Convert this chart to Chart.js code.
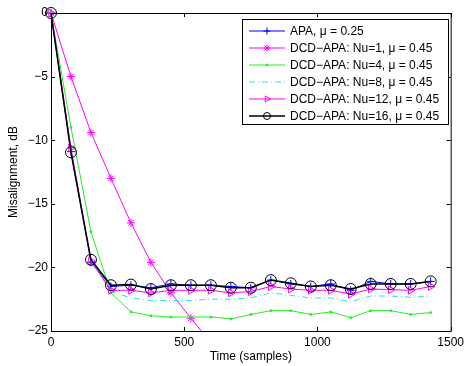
<!DOCTYPE html>
<html>
<head>
<meta charset="utf-8">
<script src="https://cdn.jsdelivr.net/npm/chart.js@4"></script>
<style>
  html, body { margin: 0; padding: 0; background: #fff; }
  #wrap { width: 468px; height: 366px; }
</style>
</head>
<body>
<div id="wrap"><canvas id="c" width="468" height="366"></canvas></div>
<script>
// sample index (time axis)
const samples = [0, 75, 150, 225, 300, 375, 450, 525, 600, 675, 750, 825, 900, 975, 1050, 1125, 1200, 1275, 1350, 1425];

const apa  = [0, -10.9, -19.6, -21.5, -21.4, -21.6, -21.3, -21.4, -21.4, -21.5, -21.6, -21.0, -21.3, -21.5, -21.3, -21.8, -21.1, -21.3, -21.3, -21.1];
const nu1  = [0, -5.0, -9.4, -13.0, -16.5, -19.6, -22.0, -24.0, -25.9];
const nu4  = [0, -9.0, -17.2, -22.0, -23.5, -23.8, -23.9, -23.9, -23.9, -24.05, -23.7, -23.4, -23.4, -23.7, -23.5, -23.95, -23.4, -23.4, -23.7, -23.55];
const nu8  = [0, -10.8, -19.5, -21.9, -22.4, -22.6, -22.6, -22.6, -22.5, -22.5, -22.4, -22.0, -22.2, -22.4, -22.4, -22.7, -22.25, -22.25, -22.35, -22.25];
const nu12 = [0, -10.6, -19.5, -21.8, -21.8, -22.0, -21.8, -21.8, -21.8, -22.0, -21.9, -21.5, -21.7, -21.8, -21.8, -22.1, -21.7, -21.75, -21.8, -21.5];
const nu16 = [0, -10.95, -19.4, -21.4, -21.35, -21.7, -21.4, -21.4, -21.4, -21.6, -21.6, -21.0, -21.25, -21.5, -21.4, -21.7, -21.3, -21.3, -21.3, -21.1];

const labels = [
  'APA, \u03bc = 0.25',
  'DCD\u2212APA: Nu=1, \u03bc = 0.45',
  'DCD\u2212APA: Nu=4, \u03bc = 0.45',
  'DCD\u2212APA: Nu=8, \u03bc = 0.45',
  'DCD\u2212APA: Nu=12, \u03bc = 0.45',
  'DCD\u2212APA: Nu=16, \u03bc = 0.45'
];
const xTicks = [0, 500, 1000, 1500];
const yTicks = [-25, -20, -15, -10, -5, 0];

const pts = (ys) => ys.map((y, i) => ({x: samples[i], y: y}));
const FONT = '"Liberation Sans", Arial, sans-serif';

// frame, inward ticks, axis titles and legend, drawn MATLAB style
const matlabFrame = {
  id: 'matlabFrame',
  afterDraw(chart) {
    const ctx = chart.ctx;
    const a = chart.chartArea;
    const xs = chart.scales.x, ys = chart.scales.y;
    ctx.save();
    ctx.strokeStyle = '#000';
    ctx.lineWidth = 1;
    ctx.strokeRect(a.left + 0.5, a.top + 0.5, a.right - a.left, a.bottom - a.top);
    ctx.beginPath();
    for (const t of xTicks) {
      const px = Math.round(xs.getPixelForValue(t)) + 0.5;
      ctx.moveTo(px, a.bottom); ctx.lineTo(px, a.bottom - 4);
      ctx.moveTo(px, a.top); ctx.lineTo(px, a.top + 4);
    }
    for (const t of yTicks) {
      const py = Math.round(ys.getPixelForValue(t)) + 0.5;
      ctx.moveTo(a.left, py); ctx.lineTo(a.left + 4, py);
      ctx.moveTo(a.right, py); ctx.lineTo(a.right - 4, py);
    }
    ctx.stroke();

    ctx.fillStyle = '#000';
    ctx.font = '12px ' + FONT;
    ctx.textAlign = 'center';
    ctx.textBaseline = 'middle';
    ctx.fillText('Time (samples)', (a.left + a.right) / 2, 357);
    ctx.save();
    ctx.translate(14, (a.top + a.bottom) / 2);
    ctx.rotate(-Math.PI / 2);
    ctx.fillText('Misalignment, dB', 0, 0);
    ctx.restore();

    // legend box
    const bx = 242, by = 19, bw = 206, bh = 105, row = 17;
    ctx.fillStyle = '#fff';
    ctx.fillRect(bx, by, bw, bh);
    ctx.strokeRect(bx + 0.5, by + 0.5, bw, bh);
    ctx.textAlign = 'left';
    chart.data.datasets.forEach((ds, i) => {
      const y = by + 12 + i * row;
      ctx.strokeStyle = ds.borderColor;
      ctx.lineWidth = ds.borderWidth;
      ctx.setLineDash(ds.borderDash || []);
      ctx.beginPath();
      ctx.moveTo(249, y); ctx.lineTo(285, y);
      ctx.stroke();
      ctx.setLineDash([]);
      if (ds.pointRadius > 0) {
        ctx.fillStyle = ds.pointBackgroundColor;
        ctx.strokeStyle = ds.pointBorderColor;
        ctx.lineWidth = 1;
        Chart.helpers.drawPoint(ctx, {
          pointStyle: ds.pointStyle, rotation: ds.pointRotation || 0,
          radius: Math.min(ds.pointRadius, 3.5), borderWidth: 1
        }, 267, y);
      }
      ctx.fillStyle = '#000';
      ctx.fillText(ds.label, 290, y + 1);
    });
    ctx.restore();
  }
};

const styles = [
  {data: apa,  color: '#0000ff', width: 1, style: 'cross', radius: 4, fill: 'rgba(0,0,0,0)', order: 6},
  {data: nu1,  color: '#ff00ff', width: 1, style: 'star', radius: 4, fill: 'rgba(0,0,0,0)', order: 5, clip: true},
  {data: nu4,  color: '#22ee22', width: 1, style: 'circle', radius: 1, fill: '#22ee22', order: 4},
  {data: nu8,  color: '#33dde8', width: 1, style: 'circle', radius: 0, fill: '#33dde8', order: 3, dash: [6, 3, 1, 3]},
  {data: nu12, color: '#ff00ff', width: 1, style: 'triangle', radius: 4.5, fill: 'rgba(0,0,0,0)', order: 2, rot: 90},
  {data: nu16, color: '#000000', width: 1.5, style: 'circle', radius: 5.5, fill: 'rgba(0,0,0,0)', order: 1}
];

new Chart(document.getElementById('c'), {
  type: 'line',
  data: {
    datasets: styles.map((s, i) => ({
      label: labels[i],
      data: pts(s.data),
      borderColor: s.color,
      borderWidth: s.width,
      borderDash: s.dash || [],
      pointStyle: s.style,
      pointRadius: s.radius,
      pointRotation: s.rot || 0,
      pointBorderColor: s.color,
      pointBackgroundColor: s.fill,
      pointBorderWidth: 1,
      tension: 0,
      order: s.order,
      clip: s.clip ? 0 : false
    }))
  },
  options: {
    responsive: false,
    animation: false,
    events: [],
    layout: {padding: {top: 13, right: 13, left: 0, bottom: 0}},
    plugins: {legend: {display: false}, tooltip: {enabled: false}},
    scales: {
      x: {
        type: 'linear', min: 0, max: 1500,
        afterBuildTicks: (s) => { s.ticks = xTicks.map(v => ({value: v})); },
        afterFit: (s) => { s.height = 35; },
        grid: {display: false, drawTicks: false}, border: {display: false},
        ticks: {color: '#000', padding: 4, maxRotation: 0, font: {family: FONT, size: 12},
          callback: (v) => String(v)}
      },
      y: {
        min: -25, max: 0,
        afterBuildTicks: (s) => { s.ticks = yTicks.map(v => ({value: v})); },
        afterFit: (s) => { s.width = 51; },
        grid: {display: false, drawTicks: false}, border: {display: false},
        ticks: {color: '#000', padding: 3, font: {family: FONT, size: 12},
          callback: (v) => String(v).replace('-', '\u2212')}
      }
    }
  },
  plugins: [matlabFrame]
});
</script>
</body>
</html>
